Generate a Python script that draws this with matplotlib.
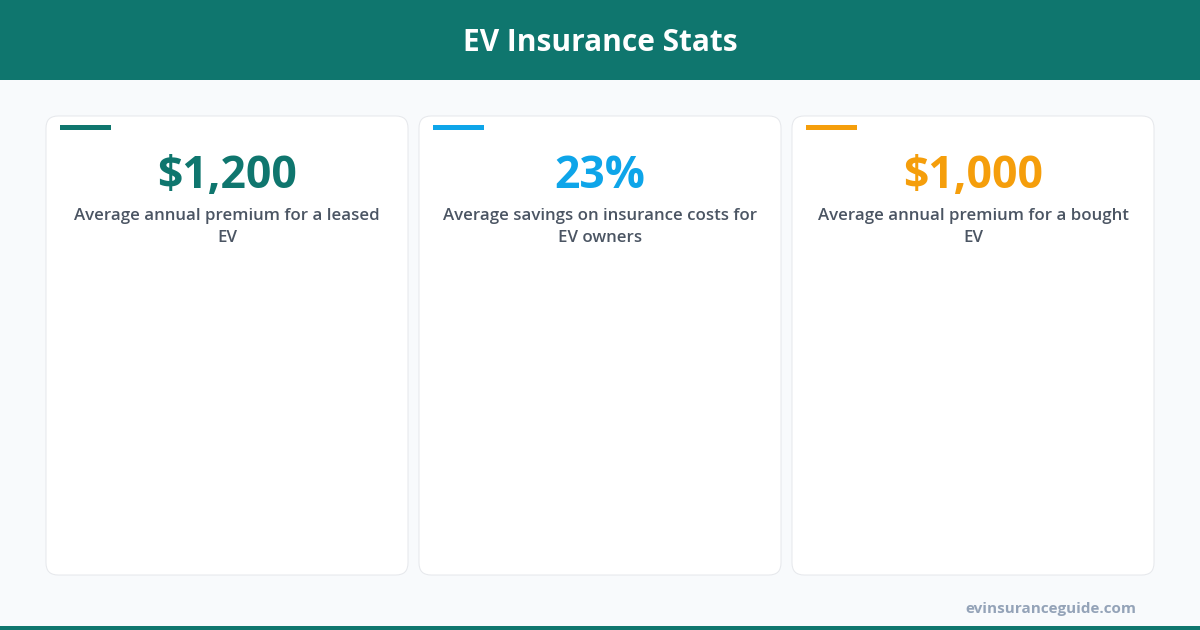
import matplotlib.pyplot as plt
from matplotlib.patches import FancyBboxPatch, Rectangle

# chart content
title = "EV Insurance Stats"
stat_values = ["$1,200", "23%", "$1,000"]
stat_labels = [
    "Average annual premium for a leased\nEV",
    "Average savings on insurance costs for\nEV owners",
    "Average annual premium for a bought\nEV",
]
stat_colors = ["#0f766e", "#0ea5e9", "#f59e0b"]
source = "evinsuranceguide.com"

W, H = 1200, 630
fig = plt.figure(figsize=(12, 6.3), dpi=100)
fig.patch.set_facecolor("#f8fafc")
ax = fig.add_axes([0, 0, 1, 1])
ax.set_xlim(0, W)
ax.set_ylim(H, 0)
ax.axis("off")

font = ["Open Sans", "DejaVu Sans"]

# header band
ax.add_patch(Rectangle((0, 0), W, 80, facecolor="#0f766e", edgecolor="none"))
ax.text(W / 2, 43, title, color="white", fontsize=21.5, fontweight="bold",
        ha="center", va="center", family=font)

# cards
card_w, gap, left, top, card_h = 362, 11, 46, 116, 459
for i, (val, lab, col) in enumerate(zip(stat_values, stat_labels, stat_colors)):
    x0 = left + i * (card_w + gap)
    ax.add_patch(FancyBboxPatch((x0, top), card_w, card_h,
                                boxstyle="round,pad=0,rounding_size=12",
                                facecolor="white", edgecolor="#e5e7eb", lw=0.7))
    ax.add_patch(Rectangle((x0 + 14, 125), 51, 5, facecolor=col, edgecolor="none"))
    ax.text(x0 + card_w / 2, 177, val, color=col, fontsize=32, fontweight="bold",
            ha="center", va="center", family=font)
    ax.text(x0 + card_w / 2, 227, lab, color="#4b5563", fontsize=12.2,
            ha="center", va="center", family=font, linespacing=1.55,
            fontweight="semibold")

# footer
ax.text(1136, 609, source, color="#94a3b8", fontsize=11, fontweight="bold",
        ha="right", va="center", family=font)
ax.add_patch(Rectangle((0, 626), W, 4, facecolor="#0f766e", edgecolor="none"))

fig.savefig("out.png", dpi=100, facecolor=fig.get_facecolor())
